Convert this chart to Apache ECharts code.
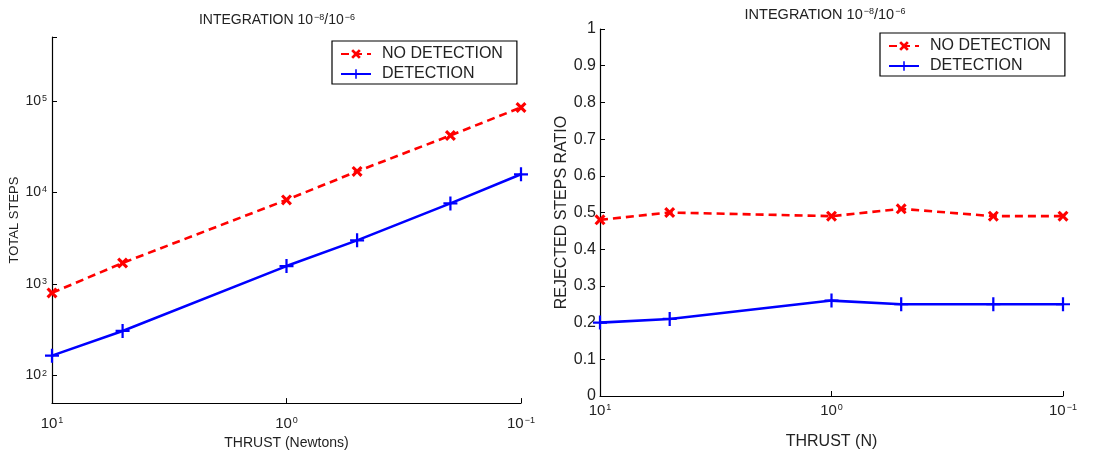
<!DOCTYPE html>
<html>
<head>
<meta charset="utf-8">
<script src="https://cdn.jsdelivr.net/npm/echarts@6/dist/echarts.min.js"></script>
<style>
html, body { margin: 0; background: #fff; }
#main { width: 1098px; height: 455px; }
</style>
</head>
<body>
<div id="main"></div>
<script>
// values
let thrust = [10, 5, 1, 0.5, 0.2, 0.1];
let stepsNoDetection = [800, 1700, 8300, 17000, 42000, 85000];
let stepsDetection = [165, 307, 1570, 3000, 7600, 15800];
let ratioNoDetection = [0.48, 0.50, 0.49, 0.51, 0.49, 0.49];
let ratioDetection = [0.20, 0.21, 0.26, 0.25, 0.25, 0.25];
let seriesNames = ['NO DETECTION', 'DETECTION'];
let ratioTicks = [0, 1, 0.1];   // min, max, step
let stepsRange = [50, 500000];
let thrustRange = [0.1, 10];

const font = 'Liberation Sans, Arial, sans-serif';
const ink = '#222';
const red = '#ff0000';
const blue = '#0000ff';

const xSymbol = 'path://M0,2L2,0L5,3L8,0L10,2L7,5L10,8L8,10L5,7L2,10L0,8L3,5Z';
const plusSymbol = 'path://M4.2,0H5.8V4.2H10V5.8H5.8V10H4.2V5.8H0V4.2H4.2Z';

function pow10Label(v) {
    let e = Math.round(Math.log10(v));
    if (Math.abs(Math.log10(v) - e) > 1e-6) return '';
    return '10{sup|' + (e < 0 ? '\u2212' + (-e) : e) + '}';
}

function supRich(size) {
    return {
        sup: { fontSize: Math.round(size * 0.62), fontFamily: font, color: ink, verticalAlign: 'top', padding: [0, 0, 0, 1] }
    };
}

function pairs(ys) {
    return thrust.map((x, i) => [x, ys[i]]);
}

function makeTitle(left, top, size) {
    return {
        text: 'INTEGRATION 10{sup|\u22128}/10{sup|\u22126}',
        left: left, top: top,
        textAlign: 'center',
        textStyle: { fontFamily: font, fontSize: size, fontWeight: 'normal', color: ink, rich: supRich(size) }
    };
}

function makeLegend(left, top, size) {
    return {
        data: seriesNames,
        orient: 'vertical',
        left: left, top: top,
        width: 170,
        itemWidth: 30, itemHeight: 12, itemGap: 4,
        padding: [5, 14, 2, 8],
        borderColor: '#000', borderWidth: 1.2,
        backgroundColor: '#fff',
        textStyle: { fontFamily: font, fontSize: size, color: ink, padding: [0, 0, 0, 6] }
    };
}

function axisLine() {
    return { show: true, lineStyle: { color: '#000', width: 1.2 } };
}

function lineSeries(name, data, xi, yi) {
    let dashed = name === seriesNames[0];
    return {
        name: name,
        type: 'line',
        xAxisIndex: xi, yAxisIndex: yi,
        data: data,
        symbol: dashed ? xSymbol : plusSymbol,
        symbolSize: dashed ? 11 : 14,
        showAllSymbol: true,
        lineStyle: { color: dashed ? red : blue, width: 2.6, type: dashed ? [8, 5] : 'solid' },
        itemStyle: { color: dashed ? red : blue },
        animation: false
    };
}

const option = {
    backgroundColor: '#fff',
    animation: false,
    title: [makeTitle(272, 8, 14), makeTitle(820, 2, 14.5)],
    legend: [makeLegend(332, 41, 16), makeLegend(880, 33, 16)],
    grid: [
        { left: 52, right: 577, top: 37, bottom: 50 },
        { left: 600, right: 35, top: 29, bottom: 58 }
    ],
    xAxis: [
        {
            gridIndex: 0, type: 'log', logBase: 10, inverse: true,
            min: thrustRange[0], max: thrustRange[1],
            name: 'THRUST (Newtons)', nameLocation: 'middle', nameGap: 31,
            nameTextStyle: { fontFamily: font, fontSize: 14, color: ink },
            axisLine: axisLine(),
            axisTick: { show: true, inside: true, length: 5, lineStyle: { color: '#000' } },
            splitLine: { show: false },
            axisLabel: { fontFamily: font, fontSize: 15, color: ink, margin: 13, formatter: pow10Label, rich: supRich(15) }
        },
        {
            gridIndex: 1, type: 'log', logBase: 10, inverse: true,
            min: thrustRange[0], max: thrustRange[1],
            name: 'THRUST (N)', nameLocation: 'middle', nameGap: 38,
            nameTextStyle: { fontFamily: font, fontSize: 16, color: ink },
            axisLine: axisLine(),
            axisTick: { show: true, inside: true, length: 5, lineStyle: { color: '#000' } },
            splitLine: { show: false },
            axisLabel: { fontFamily: font, fontSize: 15, color: ink, margin: 7, formatter: pow10Label, rich: supRich(15) }
        }
    ],
    yAxis: [
        {
            gridIndex: 0, type: 'log', logBase: 10,
            min: stepsRange[0], max: stepsRange[1],
            name: 'TOTAL STEPS', nameLocation: 'middle', nameGap: 31,
            nameTextStyle: { fontFamily: font, fontSize: 13, color: ink },
            axisLine: axisLine(),
            axisTick: { show: true, inside: true, length: 5, lineStyle: { color: '#000' } },
            splitLine: { show: false },
            axisLabel: { fontFamily: font, fontSize: 14, color: ink, margin: 5, formatter: pow10Label, rich: supRich(14) }
        },
        {
            gridIndex: 1, type: 'value',
            min: ratioTicks[0], max: ratioTicks[1], interval: ratioTicks[2],
            name: 'REJECTED STEPS RATIO', nameLocation: 'middle', nameGap: 30,
            nameTextStyle: { fontFamily: font, fontSize: 16, color: ink },
            axisLine: axisLine(),
            axisTick: { show: true, inside: true, length: 5, lineStyle: { color: '#000' } },
            splitLine: { show: false },
            axisLabel: { fontFamily: font, fontSize: 16, color: ink, margin: 4 }
        }
    ],
    series: [
        lineSeries(seriesNames[0], pairs(stepsNoDetection), 0, 0),
        lineSeries(seriesNames[1], pairs(stepsDetection), 0, 0),
        lineSeries(seriesNames[0], pairs(ratioNoDetection), 1, 1),
        lineSeries(seriesNames[1], pairs(ratioDetection), 1, 1)
    ]
};

let plot = echarts.init(document.querySelector('#main'));
plot.setOption(option);
</script>
</body>
</html>
